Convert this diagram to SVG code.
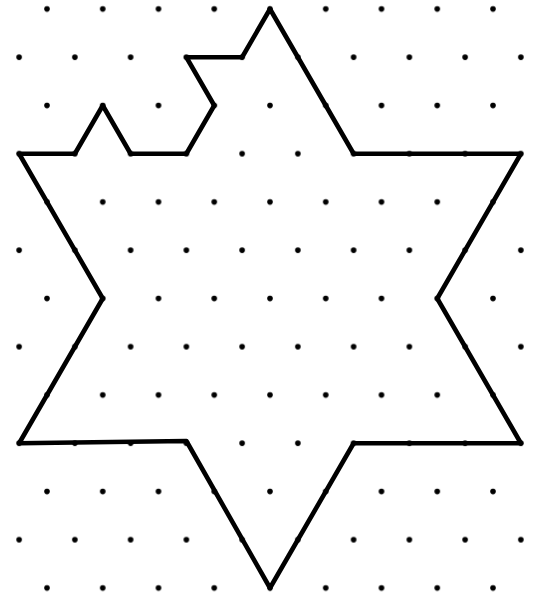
<svg xmlns="http://www.w3.org/2000/svg" width="542" height="595" viewBox="0 0 542 595">
<style>
.dot{fill:#000}
.shape{fill:none;stroke:#000;stroke-width:4.6;stroke-linejoin:round;stroke-linecap:round}
</style>
<defs>
<pattern id="grid" patternUnits="userSpaceOnUse" x="5.185" y="45.19" width="55.75" height="96.5">
<circle class="dot" cx="13.94" cy="12.06" r="2.8"/>
<circle class="dot" cx="41.815" cy="60.31" r="2.8"/>
</pattern>
</defs>
<rect x="0" y="0" width="542" height="595" fill="#fff"/>
<rect id="dot-grid" x="0" y="0" width="542" height="595" fill="url(#grid)"/>
<g id="star">
<path class="shape" d="M270,9 L353.625,153.75 L520.875,153.75 L437.25,298.5 L520.875,443.25 L353.625,443.25 L270,588 L186.375,441 L19.125,443.25 L102.75,298.5 L19.125,153.75 L74.875,153.75 L102.75,105.5 L130.625,153.75 L186.375,153.75 L214.25,105.5 L186.375,57.25 L242.125,57.25 Z"/>
</g>
</svg>
